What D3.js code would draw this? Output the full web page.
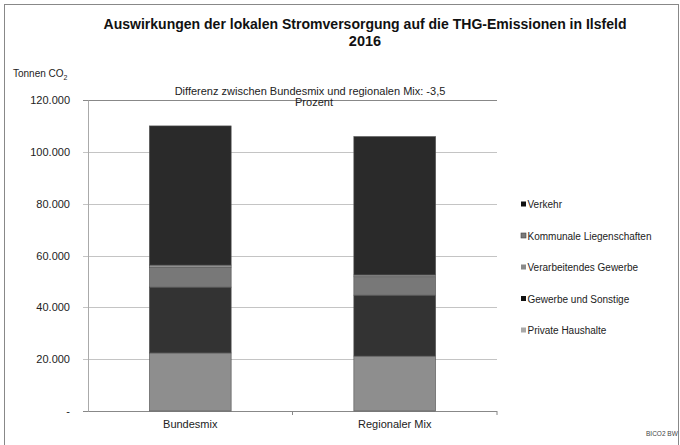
<!DOCTYPE html>
<html>
  <head>
    <meta charset="utf-8">
    <title>THG-Emissionen Ilsfeld</title>
    <script src="https://d3js.org/d3.v7.min.js"></script>
    <style>
      body { margin: 0; background: #fff; }
      svg { font-family: "Liberation Sans", Arial, sans-serif; }
      .tick text { fill: #222; font-size: 11px; }
    </style>
  </head>
  <body>
    <svg width="680" height="445"></svg>
    <script>
      // values, t CO2
      var categories = ["Bundesmix", "Regionaler Mix"];
      var sectors = ["Private Haushalte", "Gewerbe und Sonstige", "Verarbeitendes Gewerbe", "Kommunale Liegenschaften", "Verkehr"];
      var privateHaushalte = [22400, 21200];
      var gewerbe = [25400, 23500];
      var verarbeitendes = [7700, 7100];
      var kommunale = [800, 700];
      var verkehr = [53700, 53400];
      var yTicks = [0, 20000, 40000, 60000, 80000, 100000, 120000];
      var colors = ["#8e8e8e", "#333333", "#787878", "#9a9a9a", "#2a2a2a"];

      var series = [privateHaushalte, gewerbe, verarbeitendes, kommunale, verkehr];
      var table = categories.map(function(c, i) {
        var row = {cat: c};
        sectors.forEach(function(s, j) { row[s] = series[j][i]; });
        return row;
      });

      var svg = d3.select("svg");
      var plot = {left: 88, right: 497, top: 100, bottom: 411};

      // frame
      svg.append("rect")
          .attr("x", 4.5).attr("y", 4.5)
          .attr("width", 674).attr("height", 450)
          .attr("fill", "none").attr("stroke", "#888");

      var x = d3.scaleBand().domain(categories).range([plot.left, plot.right]);
      var y = d3.scaleLinear().domain([0, 120000]).range([plot.bottom, plot.top]);
      var fmt = function(d) { return d === 0 ? "-" : d3.format(",")(d).replace(/,/g, "."); };

      // grid
      svg.append("g").selectAll("line")
        .data(yTicks)
        .enter().append("line")
          .attr("x1", plot.left - 5).attr("x2", plot.right)
          .attr("y1", function(d) { return Math.round(y(d)) + 0.5; })
          .attr("y2", function(d) { return Math.round(y(d)) + 0.5; })
          .attr("stroke", function(d) { return (d === 0 || d === 120000) ? "#888" : "#c4c4c4"; });

      var yAxis = svg.append("g")
          .attr("transform", "translate(" + plot.left + ",0)")
          .call(d3.axisLeft(y).tickValues(yTicks).tickFormat(fmt).tickSize(0).tickPadding(18));
      yAxis.select(".domain").attr("stroke", "#aaa");

      var xAxis = svg.append("g")
          .attr("transform", "translate(0," + plot.bottom + ")")
          .call(d3.axisBottom(x).tickSize(0).tickPadding(9));
      xAxis.select(".domain").remove();
      // category separators
      svg.append("g").selectAll("line")
        .data([x(categories[1]), plot.right])
        .enter().append("line")
          .attr("x1", function(d) { return d; }).attr("x2", function(d) { return d; })
          .attr("y1", plot.bottom).attr("y2", plot.bottom + 4)
          .attr("stroke", "#888");

      // bars
      var stack = d3.stack().keys(sectors)(table);
      var barW = x.bandwidth() * 0.4;
      svg.append("g").selectAll("g")
        .data(stack)
        .enter().append("g")
          .attr("fill", function(d, i) { return colors[i]; })
        .selectAll("rect")
        .data(function(d) { return d; })
        .enter().append("rect")
          .attr("x", function(d) { return x(d.data.cat) + x.bandwidth() * 0.3; })
          .attr("width", barW)
          .attr("y", function(d) { return y(d[1]); })
          .attr("height", function(d) { return y(d[0]) - y(d[1]); })
          .attr("stroke", "#555")
          .attr("stroke-width", 0.6);

      // title
      svg.append("text")
          .attr("x", 365).attr("y", 29)
          .attr("text-anchor", "middle")
          .attr("font-weight", "bold").attr("font-size", "15px").attr("fill", "#111")
          .attr("textLength", 523).attr("lengthAdjust", "spacingAndGlyphs")
          .text("Auswirkungen der lokalen Stromversorgung auf die THG-Emissionen in Ilsfeld");
      svg.append("text")
          .attr("x", 365).attr("y", 46)
          .attr("text-anchor", "middle")
          .attr("font-weight", "bold").attr("font-size", "14.5px").attr("fill", "#111")
          .text("2016");

      // y unit
      var unit = svg.append("text")
          .attr("x", 13).attr("y", 77)
          .attr("font-size", "10px").attr("fill", "#222");
      unit.append("tspan").text("Tonnen CO");
      unit.append("tspan").attr("dy", 3).attr("font-size", "7px").text("2");

      // annotation
      svg.append("text")
          .attr("x", 310).attr("y", 95)
          .attr("text-anchor", "middle")
          .attr("font-size", "11px").attr("fill", "#222")
          .text("Differenz zwischen Bundesmix und regionalen Mix: -3,5");
      svg.append("text")
          .attr("x", 314).attr("y", 106)
          .attr("text-anchor", "middle")
          .attr("font-size", "11px").attr("fill", "#222")
          .text("Prozent");

      // legend (top entry is the top of the stack)
      var legendColors = ["#111", "#7a7a7a", "#8a8a8a", "#111", "#a8a8a8"];
      var legend = svg.append("g").selectAll("g")
        .data(sectors.slice().reverse())
        .enter().append("g")
          .attr("transform", function(d, i) { return "translate(521," + (205 + i * 31.5) + ")"; });
      legend.append("rect")
          .attr("x", 0).attr("y", -3.5)
          .attr("width", 5).attr("height", 5)
          .attr("fill", function(d, i) { return legendColors[i]; })
          .attr("stroke", function(d, i) { return i === 1 ? "#444" : "none"; })
          .attr("stroke-width", 0.6);
      legend.append("text")
          .attr("x", 6.5).attr("y", 3)
          .attr("font-size", "10px").attr("fill", "#222")
          .text(function(d) { return d; });

      svg.append("text")
          .attr("x", 646).attr("y", 436)
          .attr("font-size", "6.5px").attr("fill", "#444")
          .text("BICO2 BW");
    </script>
  </body>
</html>
